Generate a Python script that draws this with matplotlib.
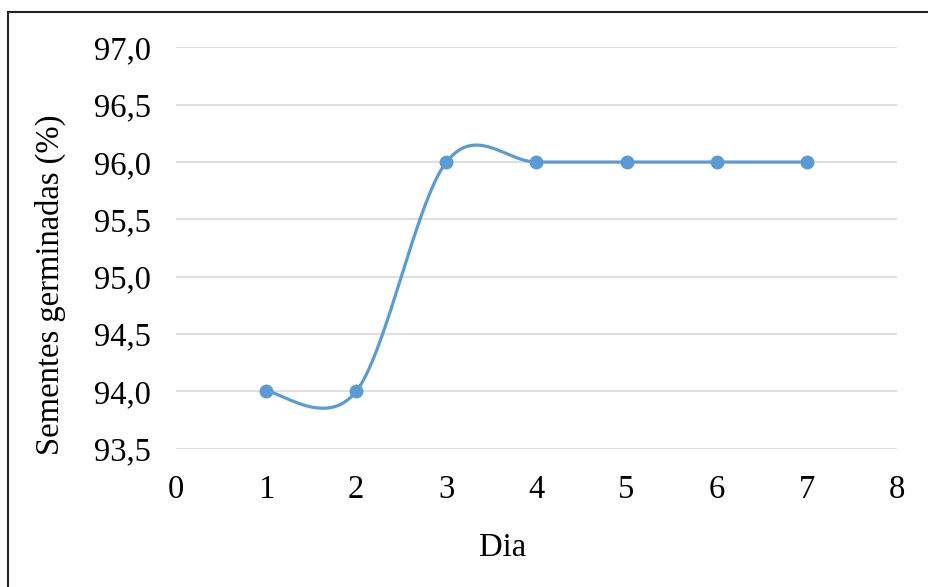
import matplotlib.pyplot as plt
import numpy as np
from matplotlib.patches import Rectangle

dias = [1, 2, 3, 4, 5, 6, 7]
germinadas = [94.0, 94.0, 96.0, 96.0, 96.0, 96.0, 96.0]

y_ticks = [93.5, 94.0, 94.5, 95.0, 95.5, 96.0, 96.5, 97.0]
x_ticks = [0, 1, 2, 3, 4, 5, 6, 7, 8]

BLUE = '#5B9BD5'
GRID = '#D9D9D9'


def excel_smooth(x, y, n=40):
    # bezier segments with control points at 1/6 of neighbour difference
    x = np.asarray(x, float)
    y = np.asarray(y, float)
    pts = np.column_stack([x, y])
    out = []
    for i in range(len(pts) - 1):
        p0 = pts[i - 1] if i > 0 else pts[i]
        p1 = pts[i]
        p2 = pts[i + 1]
        p3 = pts[i + 2] if i + 2 < len(pts) else pts[i + 1]
        c1 = p1 + (p2 - p0) / 6
        c2 = p2 - (p3 - p1) / 6
        t = np.linspace(0, 1, n)[:, None]
        seg = ((1 - t) ** 3) * p1 + 3 * ((1 - t) ** 2) * t * c1 \
            + 3 * (1 - t) * t ** 2 * c2 + t ** 3 * p2
        out.append(seg if i == 0 else seg[1:])
    curve = np.vstack(out)
    return curve[:, 0], curve[:, 1]


plt.rcParams['font.family'] = ['Liberation Serif', 'DejaVu Serif']

fig = plt.figure(figsize=(9.29, 5.87), dpi=100)
ax = fig.add_axes([176 / 929, 1 - 449 / 587, (897 - 176) / 929, (449 - 47) / 587])

sx, sy = excel_smooth(dias, germinadas)
ax.plot(sx, sy, color=BLUE, linewidth=2.3, solid_capstyle='round', zorder=3)
ax.plot(dias, germinadas, 'o', color=BLUE, markersize=9, zorder=4)

ax.set_xlim(0, 8)
ax.set_xticks(x_ticks)
ax.set_yticks(y_ticks)
ax.set_yticklabels([f'{v:.1f}'.replace('.', ',') for v in y_ticks])
ax.tick_params(length=0, labelsize=23.5)
ax.tick_params(axis='y', pad=18)
ax.tick_params(axis='x', pad=18)
for s in ax.spines.values():
    s.set_visible(False)
ax.grid(axis='y', color=GRID, linewidth=1.2)
ax.set_axisbelow(True)
ax.set_ylim(93.5 - 0.004, 97.0 + 0.004)

fig.text(503 / 929, 1 - 548 / 587, 'Dia', fontsize=23.5, ha='center', va='center')
fig.text(50 / 929, 1 - 285 / 587, 'Sementes germinadas (%)', fontsize=23.5,
         rotation=90, ha='center', va='center')

fig.patches.append(Rectangle((8 / 929, -0.1), 1.2, 1 - 12 / 587 + 0.1,
                             transform=fig.transFigure, fill=False,
                             edgecolor='#222222', linewidth=1.5))

fig.savefig('out.png', dpi=100)
